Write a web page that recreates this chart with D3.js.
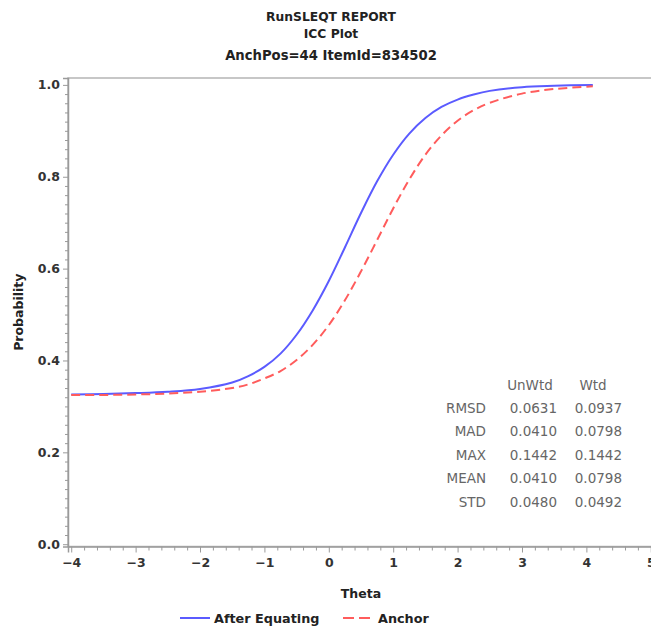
<!DOCTYPE html>
<html><head><meta charset="utf-8">
<script src="https://cdn.jsdelivr.net/npm/d3@7"></script>
<style>
body{margin:0;background:#fff;}
svg{display:block;font-family:"DejaVu Sans",sans-serif;}
</style></head>
<body>
<svg id="chart" width="651" height="632"></svg>
<script>
// ---- data ----
const titleLines = ["RunSLEQT REPORT", "ICC Plot", "AnchPos=44 ItemId=834502"];
const theta = [-4, -3.5, -3, -2.5, -2, -1.5, -1.25, -1, -0.75, -0.5, -0.25, 0, 0.25, 0.5, 0.75, 1, 1.25, 1.5, 1.75, 2, 2.25, 2.5, 3, 3.5, 4.1];
const afterEquating = [0.326, 0.327, 0.329, 0.332, 0.338, 0.352, 0.366, 0.386, 0.415, 0.456, 0.509, 0.573, 0.646, 0.721, 0.790, 0.848, 0.894, 0.928, 0.952, 0.968, 0.979, 0.987, 0.995, 0.998, 1.000];
const anchor =        [0.325, 0.325, 0.326, 0.328, 0.332, 0.340, 0.348, 0.361, 0.377, 0.401, 0.434, 0.477, 0.531, 0.594, 0.662, 0.731, 0.794, 0.848, 0.890, 0.922, 0.945, 0.961, 0.981, 0.991, 0.997];
const xTicks = [-4, -3, -2, -1, 0, 1, 2, 3, 4, 5];
const yTicks = [0.0, 0.2, 0.4, 0.6, 0.8, 1.0];
const seriesNames = ["After Equating", "Anchor"];
const tableCols = ["UnWtd", "Wtd"];
const tableRows = ["RMSD", "MAD", "MAX", "MEAN", "STD"];
const unWtd = ["0.0631", "0.0410", "0.1442", "0.0410", "0.0480"];
const wtd =   ["0.0937", "0.0798", "0.1442", "0.0798", "0.0492"];

// ---- layout ----
const svg = d3.select("#chart");
const pL = 68, pR = 654, pT = 78, pB = 546.5;
const x = d3.scaleLinear().domain([-4.05, 5.05]).range([pL, pR]);
const y = d3.scaleLinear().domain([-0.005, 1.015]).range([pB, pT]);
const blue = "#5b5bff", red = "#ff5c5c";
const axisCol = "#9a9a9a", textCol = "#333";

// titles
const tSizes = [12.3, 12.3, 13.2], tY = [21, 38, 60];
titleLines.forEach((t, i) => {
  svg.append("text").attr("x", 331).attr("y", tY[i]).attr("text-anchor", "middle")
    .attr("font-size", tSizes[i]).attr("font-weight", "bold").attr("fill", "#222").text(t);
});

// frame
svg.append("rect").attr("x", pL).attr("y", pT).attr("width", pR - pL).attr("height", pB - pT)
  .attr("fill", "none").attr("stroke", "#b5b5b5").attr("stroke-width", 1.5);

// y axis minor ticks
const yMinor = d3.range(0, 51).map(i => i * 0.02).filter(v => !yTicks.some(t => Math.abs(t - v) < 1e-6));
svg.append("g").attr("transform", `translate(${pL},0)`)
  .call(d3.axisLeft(y).tickValues(yMinor).tickSize(3).tickFormat(""))
  .call(g => { g.select(".domain").remove(); g.selectAll("line").attr("stroke", axisCol); });
svg.append("g").attr("transform", `translate(${pL},0)`)
  .call(d3.axisLeft(y).tickValues(yTicks).tickSize(5).tickPadding(3).tickFormat(d3.format(".1f")))
  .call(g => {
    g.select(".domain").attr("stroke", axisCol).attr("stroke-width", 1.5);
    g.selectAll("line").attr("stroke", axisCol);
    g.selectAll("text").attr("font-family", "DejaVu Sans").attr("font-size", 12.5)
      .attr("font-weight", "bold").attr("fill", textCol);
  });

// x axis minor ticks
const xMinor = d3.range(-20, 26).map(i => i * 0.2).filter(v => !xTicks.some(t => Math.abs(t - v) < 1e-6));
svg.append("g").attr("transform", `translate(0,${pB})`)
  .call(d3.axisBottom(x).tickValues(xMinor).tickSize(4).tickFormat(""))
  .call(g => { g.select(".domain").remove(); g.selectAll("line").attr("stroke", axisCol); });
svg.append("g").attr("transform", `translate(0,${pB})`)
  .call(d3.axisBottom(x).tickValues(xTicks).tickSize(6).tickPadding(6).tickFormat(d => d < 0 ? "\u2212" + Math.abs(d) : d))
  .call(g => {
    g.select(".domain").attr("stroke", axisCol).attr("stroke-width", 1.5);
    g.selectAll("line").attr("stroke", axisCol);
    g.selectAll("text").attr("font-family", "DejaVu Sans").attr("font-size", 12.5)
      .attr("font-weight", "bold").attr("fill", textCol);
  });

// axis labels
svg.append("text").attr("x", (pL + pR) / 2).attr("y", 598).attr("text-anchor", "middle")
  .attr("font-size", 12.5).attr("font-weight", "bold").attr("fill", "#222").text("Theta");
svg.append("text").attr("transform", `translate(23,${(pT + pB) / 2}) rotate(-90)`).attr("text-anchor", "middle")
  .attr("font-size", 12.5).attr("font-weight", "bold").attr("fill", "#222").text("Probability");

// curves
const line = d3.line().x(d => x(d[0])).y(d => y(d[1])).curve(d3.curveCatmullRom.alpha(0.5));
svg.append("clipPath").attr("id", "clip").append("rect")
  .attr("x", pL).attr("y", pT).attr("width", pR - pL).attr("height", pB - pT);
svg.append("path").datum(theta.map((t, i) => [t, afterEquating[i]]))
  .attr("d", line).attr("fill", "none").attr("stroke", blue).attr("stroke-width", 2).attr("clip-path", "url(#clip)");
svg.append("path").datum(theta.map((t, i) => [t, anchor[i]]))
  .attr("d", line).attr("fill", "none").attr("stroke", red).attr("stroke-width", 2)
  .attr("stroke-dasharray", "9,5").attr("clip-path", "url(#clip)");

// stats table
const tg = svg.append("g").attr("font-size", 13.5).attr("fill", "#666");
const colX = [530, 593];
tableCols.forEach((c, i) => tg.append("text").attr("x", colX[i]).attr("y", 390).attr("text-anchor", "middle").text(c));
tableRows.forEach((r, i) => {
  const yy = 413 + i * 23.4;
  tg.append("text").attr("x", 486).attr("y", yy).attr("text-anchor", "end").text(r);
  tg.append("text").attr("x", 557).attr("y", yy).attr("text-anchor", "end").text(unWtd[i]);
  tg.append("text").attr("x", 622).attr("y", yy).attr("text-anchor", "end").text(wtd[i]);
});

// legend
const lg = svg.append("g");
lg.append("line").attr("x1", 180).attr("x2", 210).attr("y1", 618).attr("y2", 618).attr("stroke", blue).attr("stroke-width", 2);
lg.append("text").attr("x", 214).attr("y", 623).attr("font-size", 12.8).attr("font-weight", "bold").attr("fill", "#222").text(seriesNames[0]);
lg.append("line").attr("x1", 343).attr("x2", 373).attr("y1", 618).attr("y2", 618).attr("stroke", red).attr("stroke-width", 2).attr("stroke-dasharray", "11,5");
lg.append("text").attr("x", 378).attr("y", 623).attr("font-size", 12.8).attr("font-weight", "bold").attr("fill", "#222").text(seriesNames[1]);
</script>
</body></html>
